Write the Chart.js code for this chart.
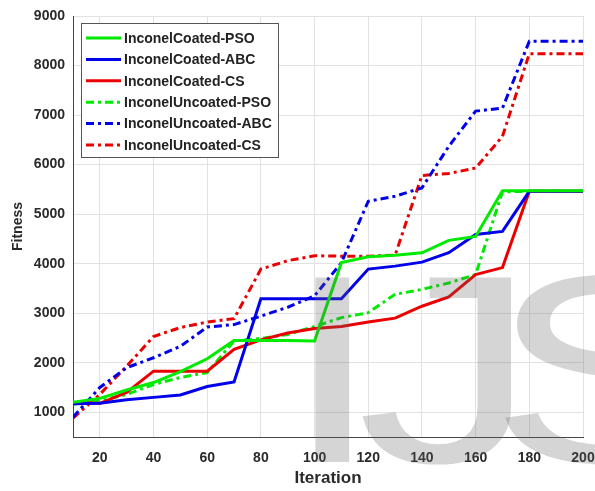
<!DOCTYPE html>
<html>
<head>
<meta charset="utf-8">
<script src="https://cdn.jsdelivr.net/npm/chart.js@4.4.1/dist/chart.umd.min.js"></script>
<style>
  html, body { margin: 0; padding: 0; background: #fff; }
  #wrap { width: 595px; height: 491px; }
</style>
</head>
<body>
<div id="wrap"><canvas id="chart" width="595" height="491"></canvas></div>
<script>
// values
const iterations = [10, 20, 30, 40, 50, 60, 70, 80, 90, 100, 110, 120, 130, 140, 150, 160, 170, 180, 190, 200];
const xTicks = [20, 40, 60, 80, 100, 120, 140, 160, 180, 200];
const yTicks = [1000, 2000, 3000, 4000, 5000, 6000, 7000, 8000, 9000];

const coatedPSO = [1200, 1280, 1450, 1600, 1820, 2080, 2450, 2450, 2450, 2440, 4020, 4140, 4170, 4220, 4470, 4550, 5470, 5470, 5470, 5470];
const coatedABC = [1170, 1180, 1250, 1300, 1350, 1520, 1610, 3290, 3290, 3290, 3290, 3890, 3950, 4030, 4220, 4590, 4650, 5460, 5460, 5460];
const coatedCS = [1190, 1180, 1400, 1830, 1830, 1830, 2270, 2460, 2600, 2690, 2730, 2820, 2900, 3140, 3330, 3780, 3920, 5460, 5460, 5460];
const uncoatedPSO = [1160, 1230, 1360, 1560, 1700, 1800, 2440, 2490, 2570, 2730, 2910, 3010, 3380, 3480, 3610, 3780, 5450, 5460, 5460, 5460];
const uncoatedABC = [900, 1500, 1900, 2100, 2330, 2720, 2770, 2940, 3120, 3350, 4020, 5260, 5360, 5530, 6370, 7080, 7140, 8490, 8490, 8490];
const uncoatedCS = [880, 1360, 1930, 2530, 2710, 2820, 2890, 3890, 4060, 4160, 4150, 4150, 4170, 5780, 5820, 5930, 6570, 8240, 8240, 8240];

const seriesNames = ["InconelCoated-PSO", "InconelCoated-ABC", "InconelCoated-CS",
                     "InconelUncoated-PSO", "InconelUncoated-ABC", "InconelUncoated-CS"];
const seriesValues = [coatedPSO, coatedABC, coatedCS, uncoatedPSO, uncoatedABC, uncoatedCS];
const seriesColors = ["rgb(0,235,0)", "rgb(0,0,235)", "rgb(235,0,0)", "rgb(0,235,0)", "rgb(0,0,235)", "rgb(235,0,0)"];
const dashDot = [8, 4, 3, 4];

const FONT = "'Liberation Sans', Arial, sans-serif";

// legend drawn inside the plot, MATLAB style
const boxLegend = {
    id: "boxLegend",
    afterDatasetsDraw(chart) {
        const ctx = chart.ctx;
        const x0 = 81, y0 = 23, w = 197, h = 134;
        ctx.save();
        ctx.fillStyle = "#fff";
        ctx.fillRect(x0, y0, w, h);
        ctx.strokeStyle = "#555";
        ctx.lineWidth = 1;
        ctx.strokeRect(x0 + 0.5, y0 + 0.5, w, h);
        ctx.font = "bold 14px " + FONT;
        ctx.textBaseline = "middle";
        chart.data.datasets.forEach((ds, i) => {
            const cy = 38 + i * 21.4;
            ctx.strokeStyle = ds.borderColor;
            ctx.lineWidth = ds.borderWidth;
            ctx.setLineDash(ds.borderDash || []);
            ctx.beginPath();
            ctx.moveTo(86, cy);
            ctx.lineTo(121, cy);
            ctx.stroke();
            ctx.setLineDash([]);
            ctx.fillStyle = "#222";
            ctx.fillText(ds.label, 124, cy + 1);
        });
        ctx.restore();
    },
};

// faint "IJS" watermark over the figure (letters are wide, so stretch them)
const watermark = {
    id: "watermark",
    afterDraw(chart) {
        const ctx = chart.ctx;
        ctx.save();
        ctx.font = "268px " + FONT;
        ctx.fillStyle = "rgba(100,100,100,0.27)";
        ctx.textBaseline = "alphabetic";
        [["I", 282], ["J", 357], ["S", 489]].forEach(([ch, x]) => {
            ctx.save();
            ctx.translate(x, 462);
            ctx.scale(1.35, 1);
            ctx.fillText(ch, 0, 0);
            ctx.restore();
        });
        ctx.restore();
    },
};

new Chart(document.getElementById("chart"), {
    type: "line",
    data: {
        datasets: seriesNames.map((name, i) => ({
            label: name,
            data: iterations.map((it, j) => ({ x: it, y: seriesValues[i][j] })),
            borderColor: seriesColors[i],
            backgroundColor: seriesColors[i],
            borderWidth: 3,
            borderDash: i < 3 ? [] : dashDot,
            pointRadius: 0,
            tension: 0,
            fill: false,
        })),
    },
    options: {
        responsive: false,
        animation: false,
        layout: { padding: { top: 16, right: 12, left: 0, bottom: 0 } },
        plugins: {
            legend: { display: false },
            tooltip: { enabled: false },
        },
        scales: {
            x: {
                type: "linear",
                min: 10,
                max: 200,
                afterBuildTicks: (scale) => {
                    scale.ticks = xTicks.map((v) => ({ value: v }));
                },
                afterFit: (scale) => {
                    scale.height = 54;
                    scale.paddingLeft = 0;
                    scale.paddingRight = 0;
                },
                ticks: {
                    padding: 13,
                    maxRotation: 0,
                    autoSkip: false,
                    color: "#2a2a2a",
                    font: { family: FONT, size: 14, weight: "bold" },
                    callback: (v) => String(v),
                },
                grid: { color: "#e2e2e2", drawTicks: false },
                border: { color: "#444", width: 1 },
                title: {
                    display: true,
                    text: "Iteration",
                    color: "#2a2a2a",
                    font: { family: FONT, size: 17, weight: "bold" },
                    padding: { top: 0, bottom: 2 },
                },
            },
            y: {
                type: "linear",
                min: 500,
                max: 9000,
                afterBuildTicks: (scale) => {
                    scale.ticks = yTicks.map((v) => ({ value: v }));
                },
                afterFit: (scale) => {
                    scale.width = 73;
                    scale.paddingTop = 0;
                    scale.paddingBottom = 0;
                },
                ticks: {
                    padding: 8,
                    autoSkip: false,
                    color: "#2a2a2a",
                    font: { family: FONT, size: 14, weight: "bold" },
                    callback: (v) => String(v),
                },
                grid: { color: "#e2e2e2", drawTicks: false },
                border: { color: "#444", width: 1 },
                title: {
                    display: true,
                    text: "Fitness",
                    color: "#2a2a2a",
                    font: { family: FONT, size: 14, weight: "bold" },
                    padding: { top: 10, bottom: 0 },
                },
            },
        },
    },
    plugins: [boxLegend, watermark],
});
</script>
</body>
</html>
